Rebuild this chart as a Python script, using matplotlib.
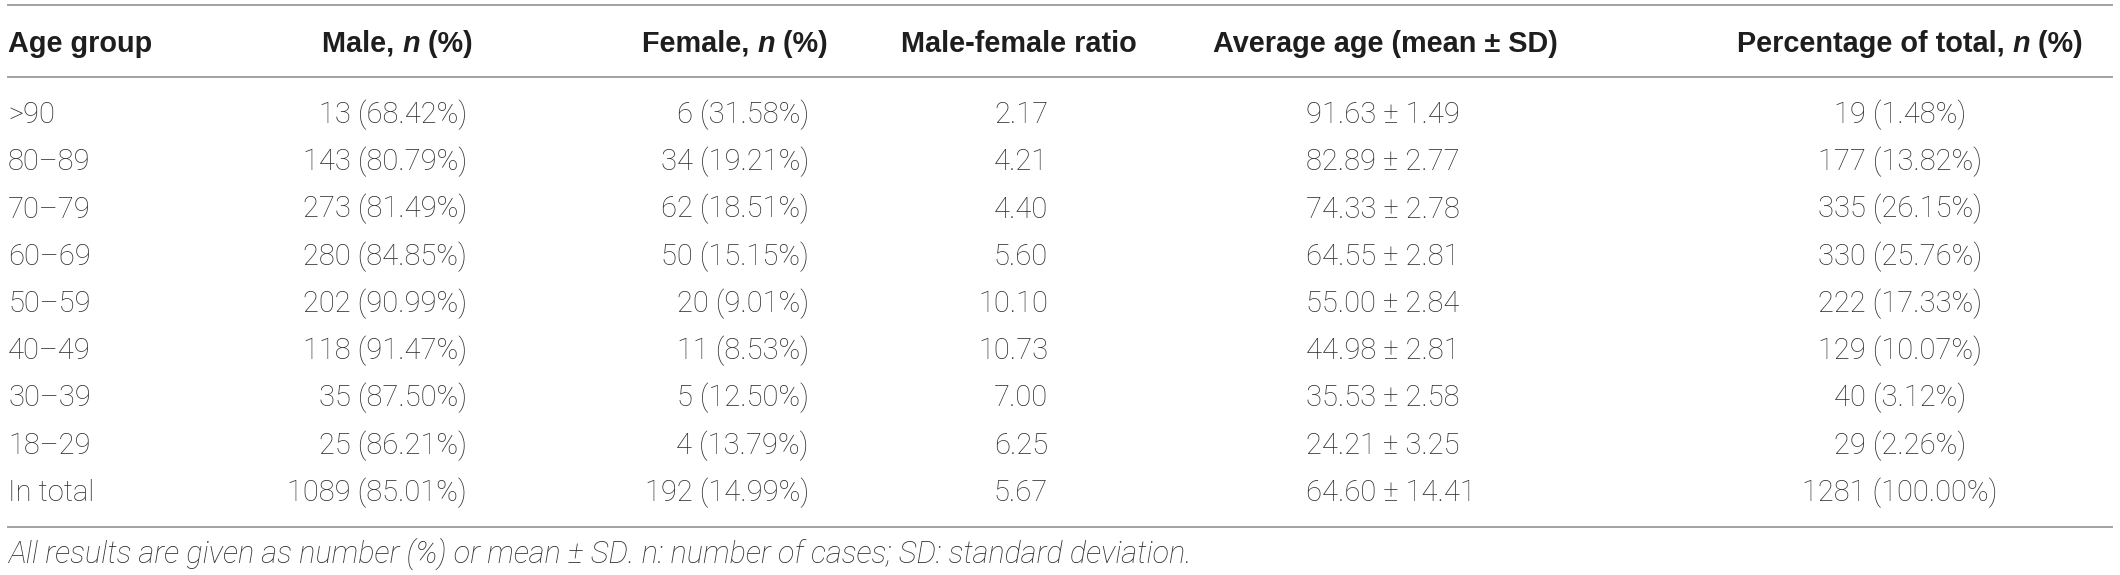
import matplotlib
matplotlib.use("Agg")
import matplotlib.pyplot as plt

# ---- data ----
age_groups = [">90", "80–89", "70–79", "60–69", "50–59", "40–49", "30–39", "18–29", "In total"]
male_n = [13, 143, 273, 280, 202, 118, 35, 25, 1089]
male_pct = [68.42, 80.79, 81.49, 84.85, 90.99, 91.47, 87.50, 86.21, 85.01]
female_n = [6, 34, 62, 50, 20, 11, 5, 4, 192]
female_pct = [31.58, 19.21, 18.51, 15.15, 9.01, 8.53, 12.50, 13.79, 14.99]
mf_ratio = [2.17, 4.21, 4.40, 5.60, 10.10, 10.73, 7.00, 6.25, 5.67]
mean_age = [91.63, 82.89, 74.33, 64.55, 55.00, 44.98, 35.53, 24.21, 64.60]
sd_age = [1.49, 2.77, 2.78, 2.81, 2.84, 2.81, 2.58, 3.25, 14.41]
total_n = [19, 177, 335, 330, 222, 129, 40, 29, 1281]
total_pct = [1.48, 13.82, 26.15, 25.76, 17.33, 10.07, 3.12, 2.26, 100.00]
footnote = "All results are given as number (%) or mean ± SD. n: number of cases; SD: standard deviation."

# header pieces: (text, italic?)
headers = [
    [("Age group", False)],
    [("Male, ", False), ("n", True), (" (%)", False)],
    [("Female, ", False), ("n", True), (" (%)", False)],
    [("Male-female ratio", False)],
    [("Average age (mean ± SD)", False)],
    [("Percentage of total, ", False), ("n", True), (" (%)", False)],
]

W, H = 2120, 575
fig = plt.figure(figsize=(W / 100, H / 100), dpi=100)
ax = fig.add_axes([0, 0, 1, 1])
ax.set_xlim(0, W)
ax.set_ylim(H, 0)
ax.axis("off")

BODY_FAM = ["Roboto", "DejaVu Sans"]
HEAD_FAM = ["Liberation Sans", "DejaVu Sans"]
BODY_FS = 21.0
HEAD_FS = 20.8
BODY_C = "#2e2e2e"
HEAD_C = "#1e1e1e"
LINE_C = "#9c9c9c"

# layout (pixels)
line_x0, line_x1 = 7, 2113
header_base = 52
row_base0, row_pitch = 123, 47.25
header_left = [8, 322, 642, 901, 1213, 1737]
foot_left, foot_right, foot_base = 8, 1191, 563

# rules
for y in (5, 77, 527):
    ax.plot([line_x0, line_x1], [y, y], color=LINE_C, lw=1.3, solid_capstyle="butt")

# header with chained pieces
for left, pieces in zip(header_left, headers):
    prev = None
    for txt, ital in pieces:
        kw = dict(fontsize=HEAD_FS, fontweight="bold", color=HEAD_C, family=HEAD_FAM,
                  fontstyle="italic" if ital else "normal")
        if prev is None:
            prev = ax.text(left, header_base, txt, ha="left", va="baseline", **kw)
        else:
            prev = ax.annotate(txt, xy=(1, 0), xycoords=prev, xytext=(0, 0),
                               textcoords="offset points", ha="left", va="bottom", **kw)

# body
bkw = dict(fontsize=BODY_FS, fontweight="light", color=BODY_C, family=BODY_FAM, va="baseline")
for i in range(len(age_groups)):
    y = row_base0 + i * row_pitch
    ax.text(8, y, age_groups[i], ha="left", **bkw)
    ax.text(467, y, f"{male_n[i]} ({male_pct[i]:.2f}%)", ha="right", **bkw)
    ax.text(809, y, f"{female_n[i]} ({female_pct[i]:.2f}%)", ha="right", **bkw)
    ax.text(1048, y, f"{mf_ratio[i]:.2f}", ha="right", **bkw)
    ax.text(1306, y, f"{mean_age[i]:.2f} ± {sd_age[i]:.2f}", ha="left", **bkw)
    ax.text(1900, y, f"{total_n[i]} ({total_pct[i]:.2f}%)", ha="center", **bkw)

# footnote, sized to span the same width as in the original
ft = ax.text(foot_left, foot_base, footnote, ha="left", va="baseline", fontsize=20.0,
             fontweight="light", fontstyle="italic", color=BODY_C, family=BODY_FAM)
renderer = fig.canvas.get_renderer()
wpx = ft.get_window_extent(renderer).width
if wpx > 0:
    ft.set_fontsize(20.0 * (foot_right - foot_left) / wpx)

fig.savefig("out.png", dpi=100)
